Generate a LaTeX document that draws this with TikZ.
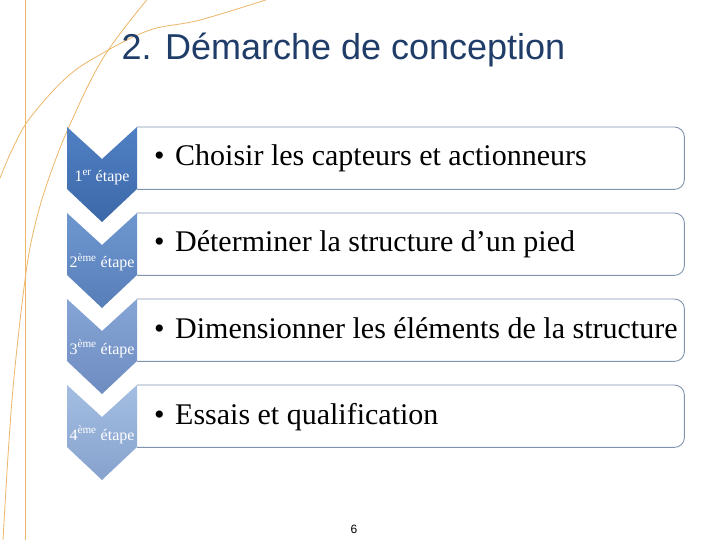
\documentclass[tikz,border=0pt]{standalone}
\usepackage{fontspec}
\setmainfont{Liberation Serif}
\newfontfamily\titlefont{Liberation Sans}
\definecolor{orangeline}{RGB}{238,182,104}
\definecolor{boxgrey}{RGB}{128,148,176}
\definecolor{titleblue}{RGB}{31,61,104}
\definecolor{cAtop}{RGB}{80,128,196}
\definecolor{cAbot}{RGB}{60,104,168}
\definecolor{cBtop}{RGB}{110,151,208}
\definecolor{cBbot}{RGB}{88,126,184}
\definecolor{cCtop}{RGB}{134,165,214}
\definecolor{cCbot}{RGB}{110,140,192}
\definecolor{cDtop}{RGB}{164,190,226}
\definecolor{cDbot}{RGB}{134,162,205}
\begin{document}
\begin{tikzpicture}[x=1bp,y=-1bp,
  deco/.style={draw=orangeline, line width=0.8bp},
  boxline/.style={draw=boxgrey, line width=0.9bp, rounded corners=10bp},
  boxshape/.style={minimum width=547bp, minimum height=62bp, inner sep=0pt, anchor=north west},
  bodytext/.style={font=\fontsize{30bp}{36bp}\selectfont, anchor=base west, inner sep=0pt, text=black},
  steplabel/.style={text=white, font=\fontsize{16bp}{18bp}\selectfont, anchor=base, inner sep=0pt}
]
\useasboundingbox (0,0) rectangle (720,540);
\fill[white] (0,0) rectangle (720,540);

% decorative orange lines
\draw[deco] (25,0) -- (25,540);
\draw[deco] plot[smooth, tension=0.6] coordinates {(150,-4) (105,55) (72,120) (50,175) (35,225) (25,280) (12,400) (3,540)};
\draw[deco] plot[smooth, tension=0.6] coordinates {(275,-3) (200,20) (150,30) (103,53) (67,77) (30,118) (12,150) (-2,183)};

% title
\node[font=\titlefont\fontsize{36bp}{40bp}\selectfont, text=titleblue, anchor=base west, inner sep=0pt] (title) at (121.5,60) {2. Démarche de conception};

% boxes
\foreach \t/\n in {127/1, 213/2, 299/3, 385/4} {
  \node[boxshape] (b\n) at (137,\t) {};
  \draw[boxline] (b\n.south west) -- (b\n.south east) -- (b\n.north east) -- (b\n.north west);
}

% chevrons
\foreach \t/\ct/\cb in {127/cAtop/cAbot, 213/cBtop/cBbot, 299/cCtop/cCbot, 385/cDtop/cDbot} {
  \shade[top color=\ct, bottom color=\cb]
    (67,\t) -- (102,\t+32) -- (137,\t) -- (137,\t+62) -- (102,\t+95) -- (67,\t+62) -- cycle;
}

% step labels
\node[steplabel] (s1) at (102,182) {1\textsuperscript{er} étape};
\node[steplabel] (s2) at (102,268) {2\textsuperscript{ème} étape};
\node[steplabel] (s3) at (102,354) {3\textsuperscript{ème} étape};
\node[steplabel] (s4) at (102,440) {4\textsuperscript{ème} étape};

% box texts
\node[bodytext] (t1) at (154,166) {\makebox[21bp][l]{•}Choisir les capteurs et actionneurs};
\node[bodytext] (t2) at (154,252) {\makebox[21bp][l]{•}Déterminer la structure d’un pied};
\node[bodytext] (t3) at (154,338) {\makebox[21bp][l]{•}Dimensionner les éléments de la structure};
\node[bodytext] (t4) at (154,424) {\makebox[21bp][l]{•}Essais et qualification};

% page number
\node[font=\titlefont\fontsize{12bp}{14bp}\selectfont, anchor=base, inner sep=0pt] (page) at (354,533) {6};
\end{tikzpicture}
\end{document}
